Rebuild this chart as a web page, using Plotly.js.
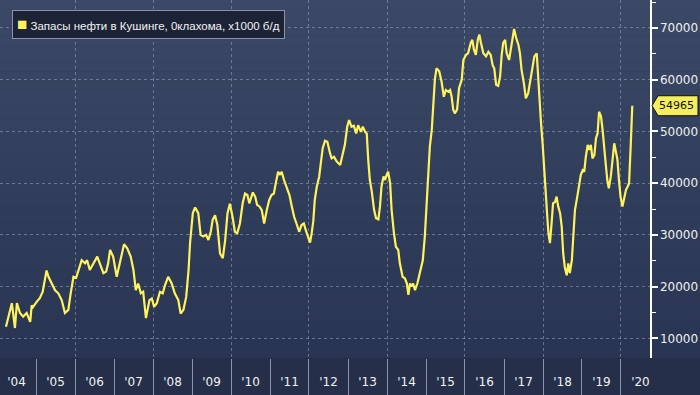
<!DOCTYPE html>
<html><head><meta charset="utf-8">
<script src="https://cdn.plot.ly/plotly-3.0.1.min.js"></script>
<style>html,body{margin:0;padding:0;background:#252f49;} #chart{width:700px;height:395px;}</style>
</head><body><div id="chart"></div>
<script>
// Decimal years of each reading
const years = [
2004.23,2004.38,2004.46,2004.51,2004.59,2004.67,2004.76,2004.85,2004.89,2004.92,
2005.02,2005.10,2005.17,2005.23,2005.27,2005.32,2005.40,2005.49,2005.57,2005.66,2005.74,2005.83,2005.89,2005.96,
2006.03,2006.17,2006.26,2006.31,2006.38,2006.51,2006.57,2006.62,2006.73,2006.80,2006.85,2006.90,2006.98,
2007.07,2007.11,2007.20,2007.26,2007.34,2007.43,2007.50,2007.56,2007.62,2007.69,2007.75,2007.82,2007.91,2007.97,
2008.03,2008.10,2008.18,2008.25,2008.31,2008.39,2008.48,2008.56,2008.65,2008.71,2008.78,2008.85,2008.91,2008.95,
2009.02,2009.08,2009.16,2009.22,2009.29,2009.36,2009.42,2009.48,2009.53,2009.59,2009.65,2009.72,2009.79,2009.85,2009.91,2009.97,
2010.04,2010.10,2010.16,2010.23,2010.30,2010.36,2010.42,2010.47,2010.56,2010.62,2010.67,2010.73,2010.79,2010.85,2010.92,2010.98,
2011.04,2011.10,2011.15,2011.21,2011.26,2011.30,2011.36,2011.43,2011.50,2011.56,2011.62,2011.68,2011.75,2011.81,2011.87,2011.92,2011.98,
2012.03,2012.07,2012.11,2012.15,2012.20,2012.26,2012.30,2012.35,2012.41,2012.47,2012.54,2012.58,2012.64,2012.71,2012.80,2012.86,2012.92,2012.98,
2013.03,2013.09,2013.15,2013.21,2013.26,2013.33,2013.38,2013.44,2013.48,2013.52,2013.56,2013.61,2013.67,2013.72,2013.78,2013.82,2013.86,2013.91,2013.95,2013.99,
2014.03,2014.08,2014.12,2014.18,2014.23,2014.29,2014.33,2014.40,2014.46,2014.51,2014.55,2014.59,2014.63,2014.67,2014.72,2014.78,2014.85,2014.92,2014.97,
2015.02,2015.06,2015.10,2015.15,2015.19,2015.23,2015.27,2015.34,2015.40,2015.46,2015.51,2015.57,2015.62,2015.66,2015.70,2015.74,2015.80,2015.85,2015.92,2015.96,
2016.03,2016.08,2016.15,2016.19,2016.23,2016.28,2016.33,2016.37,2016.41,2016.47,2016.54,2016.60,2016.66,2016.71,2016.75,2016.80,2016.85,2016.90,2016.94,2016.98,
2017.03,2017.07,2017.13,2017.18,2017.22,2017.26,2017.31,2017.37,2017.41,2017.45,2017.51,2017.56,2017.62,2017.67,2017.73,2017.78,2017.84,2017.86,2017.91,2017.95,2017.99,
2018.03,2018.08,2018.11,2018.14,2018.18,2018.22,2018.26,2018.31,2018.35,2018.39,2018.44,2018.48,2018.52,2018.56,2018.61,2018.65,2018.69,2018.74,2018.78,2018.82,2018.88,2018.93,2018.97,
2019.02,2019.06,2019.10,2019.15,2019.19,2019.23,2019.27,2019.32,2019.36,2019.40,2019.44,2019.49,2019.53,2019.56,2019.61,2019.65,2019.69,2019.74,2019.79,2019.83,2019.87,2019.91,2019.95,2019.99,
2020.04,2020.08,2020.13,2020.17,2020.21,2020.25,2020.29
];
// Cushing stocks, thousand barrels
const stocks = [
12240,16800,12000,16800,14900,14200,14900,13200,16400,16000,
17100,17800,19000,21300,23100,21900,20700,19300,18700,17400,14900,15500,18700,21900,
21700,25100,24500,25100,23200,25100,25800,24800,22600,22900,24500,27100,25800,
21900,23200,26400,28200,27400,25800,23200,19300,20600,18700,19000,13900,17400,17700,
16100,16800,19000,18700,20300,21900,20600,18700,17400,14800,15500,18000,23200,28400,
34200,35300,34200,30000,29700,30000,29000,30600,32900,33800,31900,26400,25500,29000,34200,36000,
33500,30600,30300,32200,36100,38000,37700,36100,38200,37400,35800,35500,34800,32200,34800,36700,
37700,38000,40000,42200,41600,42200,40600,39000,37700,35500,33500,32200,30600,31900,32200,30900,29700,
28500,30300,32600,36700,39300,41200,43800,46700,48200,48000,45800,44800,45100,44200,43500,45800,47400,50900,
52200,50900,51100,49600,51200,49900,50900,49900,49600,44500,40600,38400,34800,33200,33000,35500,39300,41300,40600,41600,
42200,40000,34800,30300,27700,27100,24500,21900,21600,20600,18400,20600,20000,20600,19300,20600,23200,25100,29700,
35500,40600,47100,50300,55400,60000,62200,61600,59600,56700,58000,57700,58000,56700,54200,53500,54200,58400,60000,63800,
64800,65100,67100,67700,65800,64800,67700,68700,67100,65100,64500,65400,64800,62800,62200,59000,58800,60600,64800,67100,
67700,65100,63800,66300,68700,69800,68100,66700,65100,61900,59300,56400,57400,59600,62500,64500,65100,62500,56200,51700,47700,
42500,37400,33500,30300,28400,32200,36100,36400,37400,35500,34200,31600,26400,23800,22200,24500,22600,25100,29700,34800,37400,39300,41600,
42500,42200,45100,47400,46400,47400,44800,45400,48700,49600,53800,52900,50300,47100,43800,40600,39000,41300,44500,47700,46100,44500,40600,37400,
35500,36700,38700,39300,40000,47100,54965
];
const seriesName = 'Запасы нефти в Кушинге, 0клахома, x1000 б/д';
const lastValueText = '54965';

function toDate(y){
  const yr = Math.floor(y);
  const s = Date.UTC(yr,0,1), e = Date.UTC(yr+1,0,1);
  return new Date(s + (y-yr)*(e-s)).toISOString().slice(0,10);
}
const dates = years.map(toDate);
const xRange = [toDate(2004.077), toDate(2020.744)];
const lastY = stocks[stocks.length-1];

const FONT = 'DejaVu Sans, Liberation Sans, sans-serif';
const GRID = 'rgba(150,166,195,0.55)';

// vertical gradient background
const shapes = [];
const N = 40;
const cTop = [59,73,102], cBot = [41,53,82];
for (let i=0;i<N;i++){
  const t = i/(N-1);
  const c = cTop.map((v,k)=>Math.round(v+(cBot[k]-v)*t));
  shapes.push({type:'rect', xref:'paper', yref:'paper', x0:0, x1:1.08,
    y0:1-(i+1)/N, y1:1-i/N + 0.001, fillcolor:'rgb('+c.join(',')+')', line:{width:0}, layer:'below'});
}
// value tag
shapes.push({type:'path', xref:'paper', yref:'y', xsizemode:'pixel', ysizemode:'pixel',
  xanchor:1, yanchor:lastY, path:'M 2 0 L 8 10 L 48 10 L 48 -10 L 8 -10 Z',
  fillcolor:'#f4ee5c', line:{color:'#111', width:1}, layer:'above'});

const traces = [
  {x:dates, y:stocks, type:'scatter', mode:'lines', line:{color:'#fff35c', width:2.2},
   xaxis:'x', yaxis:'y', showlegend:false, hoverinfo:'skip'},
  {x:[dates[0]], y:[stocks[0]], type:'scatter', mode:'markers', marker:{opacity:0},
   xaxis:'x2', yaxis:'y', showlegend:false, hoverinfo:'skip'}
];

const layout = {
  width:700, height:395,
  margin:{l:0, r:50, t:0, b:37},
  paper_bgcolor:'#252f49', plot_bgcolor:'rgba(0,0,0,0)',
  showlegend:false,
  xaxis:{type:'date', range:xRange, tick0:'2004-01-01', dtick:'M12', ticklabelmode:'period',
    tickformat:"'%y", ticks:'outside', ticklen:13, tickcolor:'rgba(0,0,0,0)',
    showgrid:false, zeroline:false, showline:false, fixedrange:true,
    tickfont:{family:FONT, size:12, color:'#f2f2f2'}},
  xaxis2:{type:'date', overlaying:'x', side:'bottom', range:xRange, tick0:'2006-01-01', dtick:'M24',
    showgrid:true, gridcolor:GRID, griddash:'3px,3px', gridwidth:1,
    ticks:'outside', ticklen:37, tickcolor:'#8a95ab', tickwidth:1, showticklabels:false,
    minor:{dtick:'M12', ticks:'outside', ticklen:37, tickcolor:'#8a95ab', tickwidth:1, showgrid:false},
    zeroline:false, showline:false, fixedrange:true},
  yaxis:{side:'right', range:[6200, 75400], tick0:0, dtick:10000, tickformat:'d',
    showgrid:true, gridcolor:GRID, griddash:'3px,3px', gridwidth:1,
    ticks:'outside', ticklen:6, tickwidth:2, tickcolor:'#ffffff',
    minor:{dtick:5000, ticks:'outside', ticklen:4, tickcolor:'#ffffff', tickwidth:1, showgrid:false},
    showline:true, linecolor:'#ffffff', linewidth:1.5, zeroline:false, fixedrange:true,
    tickfont:{family:FONT, size:12, color:'#f0f0f0'}},
  shapes:shapes,
  annotations:[
    {xref:'paper', yref:'paper', x:0, y:1, xanchor:'left', yanchor:'top', xshift:12, yshift:-10,
     showarrow:false, align:'left',
     text:'<span style="color:#fff35c;font-size:17px">■</span> '+seriesName,
     font:{family:'Liberation Sans, sans-serif', size:11.5, color:'#f2f2f2'},
     bgcolor:'#1c2336', bordercolor:'#8a93a8', borderwidth:1, borderpad:4},
    {xref:'paper', yref:'y', x:1, y:lastY, xanchor:'left', yanchor:'middle', xshift:7,
     showarrow:false, text:lastValueText, font:{family:FONT, size:11, color:'#111'}}
  ]
};
Plotly.newPlot('chart', traces, layout, {displayModeBar:false, staticPlot:true});
</script></body></html>
